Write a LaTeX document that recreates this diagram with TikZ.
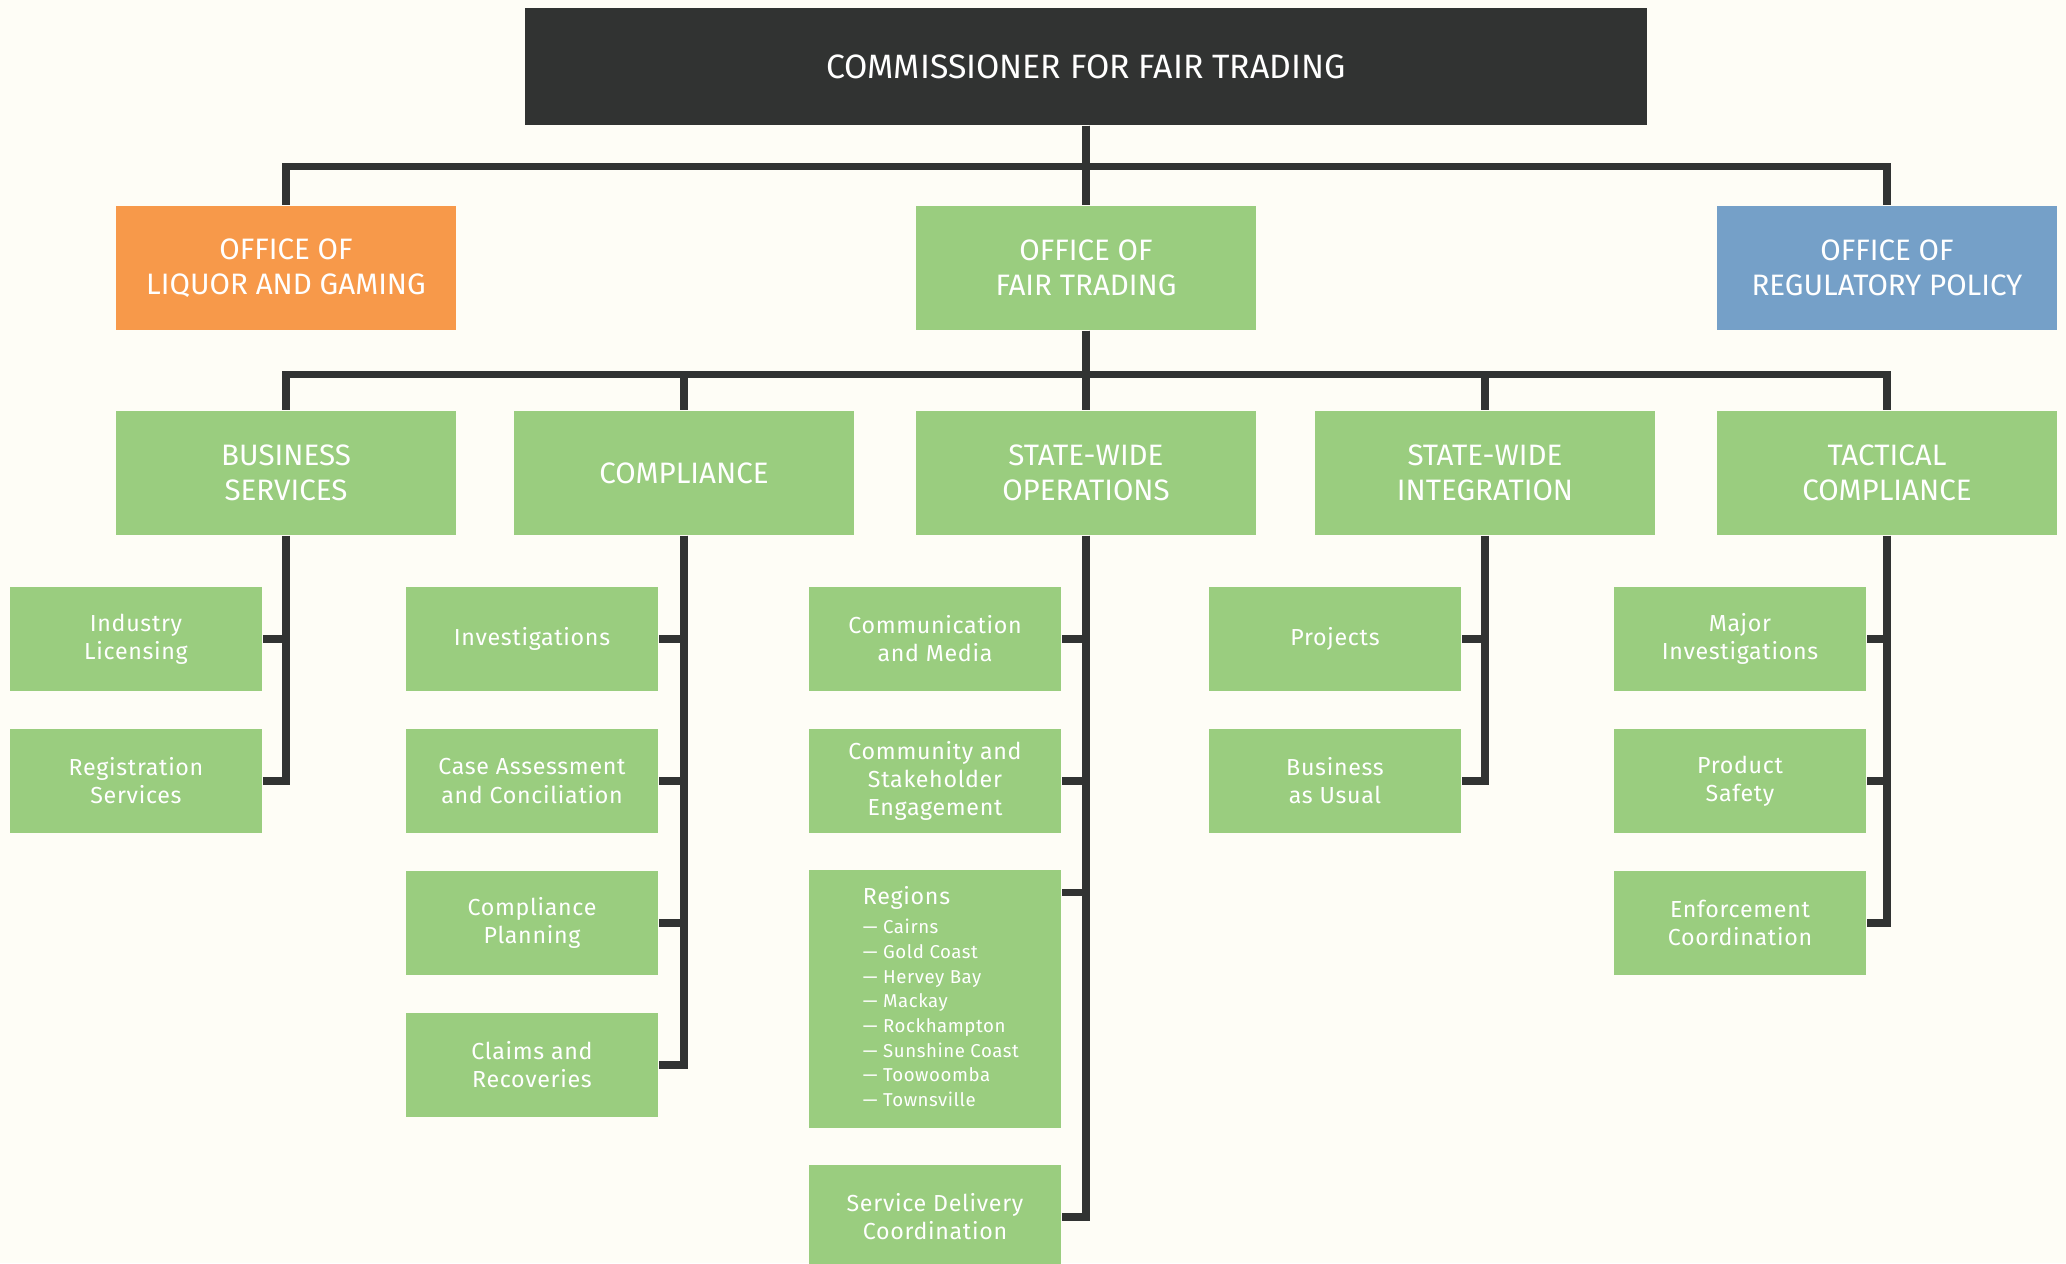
\documentclass[tikz,border=0pt]{standalone}
\usepackage{fontspec}
\setmainfont{Fira Sans}
\newfontfamily\leaffont[LetterSpace=3]{Fira Sans}
\usepackage{tikz}
\usetikzlibrary{positioning}

\definecolor{bgcream}{HTML}{FEFDF6}
\definecolor{chartdark}{HTML}{313332}
\definecolor{fairgreen}{HTML}{9ACD7F}
\definecolor{liquororange}{HTML}{F7994A}
\definecolor{policyblue}{HTML}{75A0C8}

\begin{document}
\begin{tikzpicture}[
    x=0.01cm, y=-0.01cm,
    topbox/.style={fill=chartdark, text=white, minimum width=11.22cm, minimum height=1.17cm, inner sep=0pt, font=\fontsize{9.6}{11}\selectfont},
    head/.style={fill=fairgreen, text=white, minimum width=3.4cm, minimum height=1.24cm, inner sep=0pt, align=center, font=\fontsize{8.4}{10}\selectfont},
    leaf/.style={fill=fairgreen, text=white, minimum width=2.52cm, minimum height=1.03cm, inner sep=0pt, align=center, font=\leaffont\fontsize{6.6}{8}\selectfont},
    conn/.style={draw=chartdark, line width=2.1pt}
]
\useasboundingbox (0,0) rectangle (2066,1263);
\fill[bgcream] (0,0) rectangle (2066,1263);

% top level
\node[topbox] (comm) at (1086,66.5) {COMMISSIONER FOR FAIR TRADING};

% offices
\node[head, fill=liquororange] (olg) at (286,268) {OFFICE OF\\LIQUOR AND GAMING};
\node[head] (oft) at (1086,268) {OFFICE OF\\FAIR TRADING};
\node[head, fill=policyblue] (orp) at (1887,268) {OFFICE OF\\REGULATORY POLICY};

% branches
\node[head] (bs) at (286,473) {BUSINESS\\SERVICES};
\node[head] (cmp) at (684,473) {COMPLIANCE};
\node[head] (swo) at (1086,473) {STATE-WIDE\\OPERATIONS};
\node[head] (swi) at (1485,473) {STATE-WIDE\\INTEGRATION};
\node[head] (tac) at (1887,473) {TACTICAL\\COMPLIANCE};

% units
\node[leaf] (lic) at (136,639) {Industry\\Licensing};
\node[leaf] (rsv) at (136,781) {Registration\\Services};

\node[leaf] (inv) at (532,639) {Investigations};
\node[leaf] (cac) at (532,781) {Case Assessment\\and Conciliation};
\node[leaf] (cpl) at (532,923) {Compliance\\Planning};
\node[leaf] (clr) at (532,1065) {Claims and\\Recoveries};

\node[leaf] (cmm) at (935,639) {Communication\\and Media};
\node[leaf] (cse) at (935,781) {Community and\\Stakeholder\\Engagement};
\node[leaf, minimum height=2.58cm] (regions) at (935,999) {};
\node[anchor=north west, inner sep=0pt, text=white, align=left, font=\leaffont\fontsize{5.3}{7}\selectfont]
    (reglist) at ([xshift=0.54cm,yshift=-0.16cm]regions.north west)
    {{\fontsize{6.6}{8}\selectfont Regions}\\[1.5pt]
     — Cairns\\ — Gold Coast\\ — Hervey Bay\\ — Mackay\\
     — Rockhampton\\ — Sunshine Coast\\ — Toowoomba\\ — Townsville};
\node[leaf] (sdc) at (935,1217) {Service Delivery\\Coordination};

\node[leaf] (prj) at (1335,639) {Projects};
\node[leaf] (bau) at (1335,781) {Business\\as Usual};

\node[leaf] (mji) at (1740,639) {Major\\Investigations};
\node[leaf] (psf) at (1740,781) {Product\\Safety};
\node[leaf] (enf) at (1740,923) {Enforcement\\Coordination};

% connectors
\foreach \o in {olg,oft,orp}
    \draw[conn] (comm.south) -- ++(0,41) -| (\o.north);
\foreach \b in {bs,cmp,swo,swi,tac}
    \draw[conn] (oft.south) -- ++(0,44) -| (\b.north);
\foreach \u in {lic,rsv}
    \draw[conn] (bs.south) |- (\u.east);
\foreach \u in {inv,cac,cpl,clr}
    \draw[conn] (cmp.south) |- (\u.east);
\foreach \u in {cmm,cse,sdc}
    \draw[conn] (swo.south) |- (\u.east);
\draw[conn] (swo.south) |- ([yshift=-0.23cm]regions.north east);
\foreach \u in {prj,bau}
    \draw[conn] (swi.south) |- (\u.east);
\foreach \u in {mji,psf,enf}
    \draw[conn] (tac.south) |- (\u.east);
\end{tikzpicture}
\end{document}
